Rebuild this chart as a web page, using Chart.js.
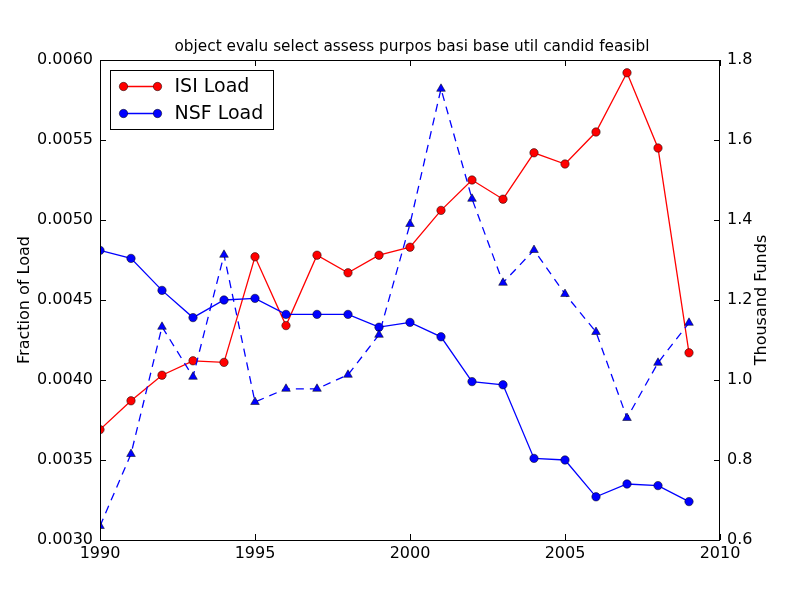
<!DOCTYPE html>
<html>
<head>
<meta charset="utf-8">
<script src="https://cdn.jsdelivr.net/npm/chart.js@4/dist/chart.umd.min.js"></script>
<style>
  body { margin: 0; background: #fff; }
  canvas { display: block; }
</style>
</head>
<body>
<canvas id="myChart" width="800" height="600"></canvas>
<script>
const CHART = document.getElementById('myChart');

const years = [1990, 1991, 1992, 1993, 1994, 1995, 1996, 1997, 1998, 1999,
               2000, 2001, 2002, 2003, 2004, 2005, 2006, 2007, 2008, 2009];
const isiLoad = [0.00369, 0.00387, 0.00403, 0.00412, 0.00411, 0.00477, 0.00434, 0.00478, 0.00467, 0.00478,
                 0.00483, 0.00506, 0.00525, 0.00513, 0.00542, 0.00535, 0.00555, 0.00592, 0.00545, 0.00417];
const nsfLoad = [0.00481, 0.00476, 0.00456, 0.00439, 0.00450, 0.00451, 0.00441, 0.00441, 0.00441, 0.00433,
                 0.00436, 0.00427, 0.00399, 0.00397, 0.00351, 0.00350, 0.00327, 0.00335, 0.00334, 0.00324];
const nsfFunds = [0.635, 0.815, 1.133, 1.008, 1.313, 0.945, 0.978, 0.978, 1.013, 1.113,
                  1.390, 1.728, 1.453, 1.243, 1.325, 1.215, 1.120, 0.905, 1.043, 1.143];
const xTicks = [1990, 1995, 2000, 2005, 2010];
const leftTicks = [0.0030, 0.0035, 0.0040, 0.0045, 0.0050, 0.0055, 0.0060];
const rightTicks = [0.6, 0.8, 1.0, 1.2, 1.4, 1.6, 1.8];

const titleText = 'object evalu select assess purpos basi base util candid feasibl';
const FONT = '"DejaVu Sans", sans-serif';

const toPoints = (values) => years.map((yr, i) => ({ x: yr, y: values[i] }));

// matplotlib-like frame, inward ticks, titles and legend
const decorations = {
    id: 'decorations',
    afterDraw(chart) {
        const ctx = chart.ctx;
        const a = chart.chartArea;
        const sx = chart.scales.x, sy = chart.scales.y, sy1 = chart.scales.y1;
        ctx.save();
        ctx.strokeStyle = '#000';
        ctx.lineWidth = 1;
        ctx.strokeRect(Math.round(a.left) + 0.5, Math.round(a.top) + 0.5,
                       Math.round(a.right - a.left) - 1, Math.round(a.bottom - a.top));
        const tl = 6;
        ctx.beginPath();
        xTicks.forEach(v => {
            const px = Math.round(sx.getPixelForValue(v)) + 0.5;
            ctx.moveTo(px, a.bottom); ctx.lineTo(px, a.bottom - tl);
            ctx.moveTo(px, a.top); ctx.lineTo(px, a.top + tl);
        });
        leftTicks.forEach(v => {
            const py = Math.round(sy.getPixelForValue(v)) + 0.5;
            ctx.moveTo(a.left, py); ctx.lineTo(a.left + tl, py);
        });
        rightTicks.forEach(v => {
            const py = Math.round(sy1.getPixelForValue(v)) + 0.5;
            ctx.moveTo(a.right, py); ctx.lineTo(a.right - tl, py);
        });
        ctx.stroke();

        ctx.fillStyle = '#000';
        ctx.font = '15.3px ' + FONT;
        ctx.textAlign = 'center';
        ctx.textBaseline = 'alphabetic';
        ctx.fillText(titleText, (a.left + a.right) / 2 + 2, 50.5);

        ctx.font = '16px ' + FONT;
        ctx.textBaseline = 'middle';
        ctx.save();
        ctx.translate(25, (a.top + a.bottom) / 2);
        ctx.rotate(-Math.PI / 2);
        ctx.fillText('Fraction of Load', 0, 0);
        ctx.restore();
        ctx.save();
        ctx.translate(762, (a.top + a.bottom) / 2);
        ctx.rotate(-Math.PI / 2);
        ctx.fillText('Thousand Funds', 0, 0);
        ctx.restore();

        // legend
        const lx = a.left + 10.5, ly = a.top + 10.5;
        ctx.fillStyle = '#fff';
        ctx.fillRect(lx, ly, 163, 59);
        ctx.strokeRect(lx, ly, 163, 59);
        const entries = [chart.data.datasets[2], chart.data.datasets[1]];
        ctx.font = '19px ' + FONT;
        ctx.textAlign = 'left';
        entries.forEach((ds, i) => {
            const y = ly + 16 + i * 27;
            ctx.strokeStyle = ds.borderColor;
            ctx.lineWidth = 1.3;
            ctx.beginPath();
            ctx.moveTo(lx + 13, y); ctx.lineTo(lx + 47, y);
            ctx.stroke();
            [lx + 13, lx + 47].forEach(cx => {
                ctx.beginPath();
                ctx.arc(cx, y, 4.2, 0, Math.PI * 2);
                ctx.fillStyle = ds.pointBackgroundColor;
                ctx.fill();
                ctx.strokeStyle = '#000';
                ctx.lineWidth = 0.5;
                ctx.stroke();
            });
            ctx.fillStyle = '#000';
            ctx.fillText(ds.label, lx + 64, y + 1);
        });
        ctx.restore();
    }
};

const chart = new Chart(CHART, {
    type: 'line',
    data: {
        datasets: [
            {
                label: 'NSF Funds',
                data: toPoints(nsfFunds),
                yAxisID: 'y1',
                borderColor: '#0000ff',
                borderWidth: 1.3,
                borderDash: [8, 6],
                pointStyle: 'triangle',
                pointRadius: 5,
                pointBackgroundColor: '#0000ff',
                pointBorderColor: '#000',
                pointBorderWidth: 0.5,
                tension: 0,
                clip: 0
            },
            {
                label: 'NSF Load',
                data: toPoints(nsfLoad),
                yAxisID: 'y',
                borderColor: '#0000ff',
                borderWidth: 1.3,
                pointRadius: 4.2,
                pointBackgroundColor: '#0000ff',
                pointBorderColor: '#000',
                pointBorderWidth: 0.5,
                tension: 0,
                clip: 0
            },
            {
                label: 'ISI Load',
                data: toPoints(isiLoad),
                yAxisID: 'y',
                borderColor: '#ff0000',
                borderWidth: 1.3,
                pointRadius: 4.2,
                pointBackgroundColor: '#ff0000',
                pointBorderColor: '#000',
                pointBorderWidth: 0.5,
                tension: 0,
                clip: 0
            }
        ]
    },
    options: {
        responsive: false,
        animation: false,
        layout: { padding: { top: 60, left: 0, right: 0, bottom: 0 } },
        plugins: { legend: { display: false }, tooltip: { enabled: false }, title: { display: false } },
        scales: {
            x: {
                type: 'linear',
                min: 1990,
                max: 2010,
                afterFit: (s) => { s.height = 60; },
                afterBuildTicks: (s) => { s.ticks = xTicks.map(v => ({ value: v })); },
                grid: { display: false, drawTicks: false },
                border: { display: false },
                ticks: { color: '#000', font: { family: FONT, size: 16 }, padding: 4, maxRotation: 0,
                         callback: (v) => String(v) }
            },
            y: {
                position: 'left',
                min: 0.0030,
                max: 0.0060,
                afterFit: (s) => { s.width = 100; },
                afterBuildTicks: (s) => { s.ticks = leftTicks.map(v => ({ value: v })); },
                grid: { display: false, drawTicks: false },
                border: { display: false },
                ticks: { color: '#000', font: { family: FONT, size: 16 }, padding: 7,
                         callback: (v) => v.toFixed(4) }
            },
            y1: {
                position: 'right',
                min: 0.6,
                max: 1.8,
                afterFit: (s) => { s.width = 80; },
                afterBuildTicks: (s) => { s.ticks = rightTicks.map(v => ({ value: v })); },
                grid: { display: false, drawTicks: false },
                border: { display: false },
                ticks: { color: '#000', font: { family: FONT, size: 16 }, padding: 7,
                         callback: (v) => v.toFixed(1) }
            }
        }
    },
    plugins: [decorations]
});
</script>
</body>
</html>
